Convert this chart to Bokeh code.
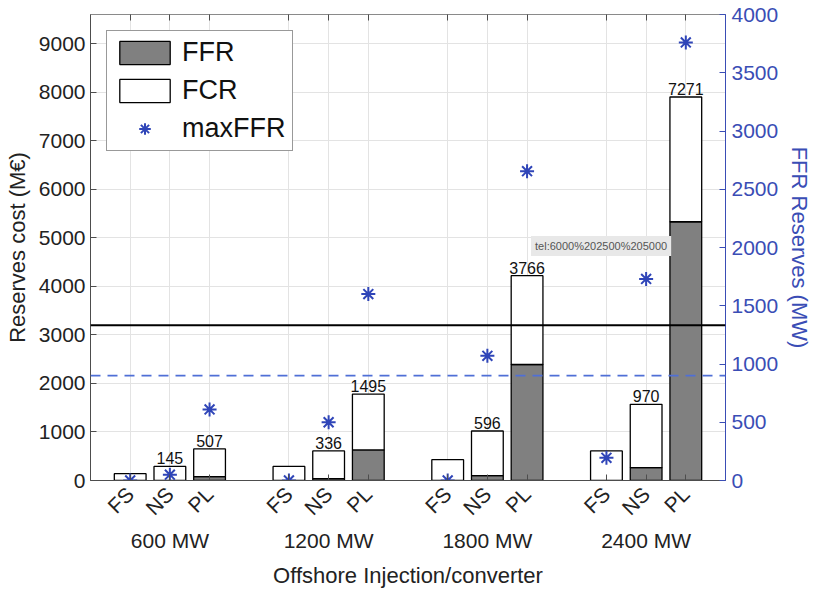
from bokeh.plotting import figure
from bokeh.models import (Range1d, LinearAxis, FixedTicker, Span, Label, Legend,
                          LegendItem, ColumnDataSource)
from bokeh.core.properties import value
from bokeh.embed import file_html
from bokeh.resources import INLINE
import math

# ---- data ----
groups = ["600 MW", "1200 MW", "1800 MW", "2400 MW"]
converters = ["FS", "NS", "PL"]
positions = [1, 2, 3, 5, 6, 7, 9, 10, 11, 13, 14, 15]
group_centers = [2, 6, 10, 14]
ffr_cost = [0, 0, 80, 0, 40, 630, 0, 100, 2390, 0, 265, 5330]
fcr_cost = [140, 290, 570, 290, 570, 1150, 430, 920, 1830, 610, 1305, 2570]
max_ffr = [0, 50, 610, 0, 500, 1600, 0, 1070, 2655, 195, 1730, 3760]
label_index = [1, 2, 4, 5, 7, 8, 10, 11]
label_text = ["145", "507", "336", "1495", "596", "3766", "970", "7271"]
cost_line = 3200      # M€, black solid line
ffr_line = 900        # MW, blue dashed line
left_ticks = [0, 1000, 2000, 3000, 4000, 5000, 6000, 7000, 8000, 9000]
right_ticks = [0, 500, 1000, 1500, 2000, 2500, 3000, 3500, 4000]

FONT = "Liberation Sans"
BLUE = "#3a4db5"
STAR = "#2f45b8"
DASH = "#4f6fd6"
AX = "#4d4d4d"

total = [a + b for a, b in zip(ffr_cost, fcr_cost)]

p = figure(width=815, height=590, output_backend="svg", toolbar_location=None,
           x_range=Range1d(0, 16), y_range=Range1d(0, 9600),
           min_border_left=90, min_border_right=70, min_border_top=14,
           min_border_bottom=104)
p.extra_y_ranges = {"right": Range1d(0, 4000)}
p.outline_line_color = "#8a8a8a"
p.background_fill_color = "white"
p.border_fill_color = "white"

# grids
p.xgrid.ticker = FixedTicker(ticks=positions)
p.ygrid.ticker = FixedTicker(ticks=left_ticks)
p.xgrid.grid_line_color = "#e3e3e3"
p.ygrid.grid_line_color = "#e3e3e3"

# bottom axis (FS/NS/PL)
xa = p.xaxis[0]
xa.ticker = FixedTicker(ticks=positions)
xa.major_label_overrides = {pos: converters[i % 3] for i, pos in enumerate(positions)}
xa.major_label_orientation = math.pi / 4
xa.major_label_text_font = FONT
xa.major_label_text_font_size = "21px"
xa.major_label_text_color = "#222222"
xa.major_tick_in = 6
xa.major_tick_out = 0
xa.minor_tick_line_color = None
xa.axis_line_color = AX
xa.major_tick_line_color = AX
xa.major_label_standoff = 10

# group axis
ga = LinearAxis(ticker=FixedTicker(ticks=group_centers),
                major_label_overrides={c: g for c, g in zip(group_centers, groups)})
ga.axis_line_color = None
ga.major_tick_line_color = None
ga.minor_tick_line_color = None
ga.major_label_text_font = FONT
ga.major_label_text_font_size = "21px"
ga.major_label_text_color = "#222222"
ga.major_label_standoff = -8
ga.axis_label = "Offshore Injection/converter"
ga.axis_label_text_font = FONT
ga.axis_label_text_font_size = "22px"
ga.axis_label_text_font_style = "normal"
ga.axis_label_text_color = "#222222"
ga.axis_label_standoff = 8
p.add_layout(ga, "below")

# top axis (ticks only)
ta = LinearAxis(ticker=FixedTicker(ticks=positions))
ta.major_label_text_font_size = "0px"
ta.major_label_text_alpha = 0
ta.major_tick_in = 6
ta.major_tick_out = 0
ta.minor_tick_line_color = None
ta.axis_line_color = "#8a8a8a"
ta.major_tick_line_color = AX
ta.major_label_standoff = 0
p.add_layout(ta, "above")

# left axis
ya = p.yaxis[0]
ya.ticker = FixedTicker(ticks=left_ticks)
ya.major_label_text_font = FONT
ya.major_label_text_font_size = "21px"
ya.major_label_text_color = "#222222"
ya.major_tick_in = 6
ya.major_tick_out = 0
ya.minor_tick_line_color = None
ya.axis_line_color = AX
ya.major_tick_line_color = AX
ya.axis_label = "Reserves cost (M€)"
ya.axis_label_text_font = FONT
ya.axis_label_text_font_size = "22px"
ya.axis_label_text_font_style = "normal"
ya.axis_label_text_color = "#222222"
ya.axis_label_standoff = 6

# right axis
ra = LinearAxis(y_range_name="right", ticker=FixedTicker(ticks=right_ticks))
ra.major_label_text_font = FONT
ra.major_label_text_font_size = "21px"
ra.major_label_text_color = BLUE
ra.major_tick_in = 6
ra.major_tick_out = 0
ra.minor_tick_line_color = None
ra.axis_line_color = BLUE
ra.major_tick_line_color = BLUE
ra.major_label_standoff = 6
ra.axis_label = "FFR Reserves (MW)"
ra.axis_label_text_font = FONT
ra.axis_label_text_font_size = "22px"
ra.axis_label_text_font_style = "normal"
ra.axis_label_text_color = BLUE
ra.axis_label_standoff = 6
p.add_layout(ra, "right")

# bars
src = ColumnDataSource(dict(x=positions, ffr=ffr_cost, tot=total))
r_ffr = p.vbar(x="x", top="ffr", bottom=0, width=0.8, source=src,
               fill_color="#808080", line_color="black", line_width=1.3)
r_fcr = p.vbar(x="x", top="tot", bottom="ffr", width=0.8, source=src,
               fill_color="white", line_color="black", line_width=1.3)

# lines
p.add_layout(Span(location=cost_line, dimension="width", line_color="black",
                  line_width=2))
p.add_layout(Span(location=ffr_line, dimension="width", line_color=DASH,
                  line_width=1.6, line_dash="10 7", y_range_name="right"))

# stars
r_star = p.scatter(positions, max_ffr, marker="asterisk", size=14,
                   line_color=STAR, line_width=2, y_range_name="right")

# value labels
p.text(x=[positions[i] for i in label_index], y=[total[i] for i in label_index],
       text=label_text, text_align="center", text_baseline="bottom",
       text_font=value(FONT), text_font_size="16px", text_color="#111111",
       y_offset=-2)

# stray tooltip text in the reference
p.add_layout(Label(x=11.1, y=4830, text="tel:6000%202500%205000",
                   text_font=FONT, text_font_size="11px", text_color="#555555",
                   text_baseline="middle", background_fill_color="#e8e8e8",
                   background_fill_alpha=1.0, padding=4))

legend = Legend(items=[LegendItem(label="FFR", renderers=[r_ffr]),
                       LegendItem(label="FCR", renderers=[r_fcr]),
                       LegendItem(label="maxFFR", renderers=[r_star])],
                location="top_left")
legend.label_text_font = FONT
legend.label_text_font_size = "27px"
legend.label_text_color = "#111111"
legend.glyph_width = 63
legend.glyph_height = 29
legend.spacing = 7
legend.padding = 6
legend.margin = 16
legend.label_standoff = 6
legend.border_line_color = "#333333"
legend.border_line_width = 1
legend.background_fill_alpha = 1
p.add_layout(legend)

open("out.html", "w").write(file_html(p, INLINE))
